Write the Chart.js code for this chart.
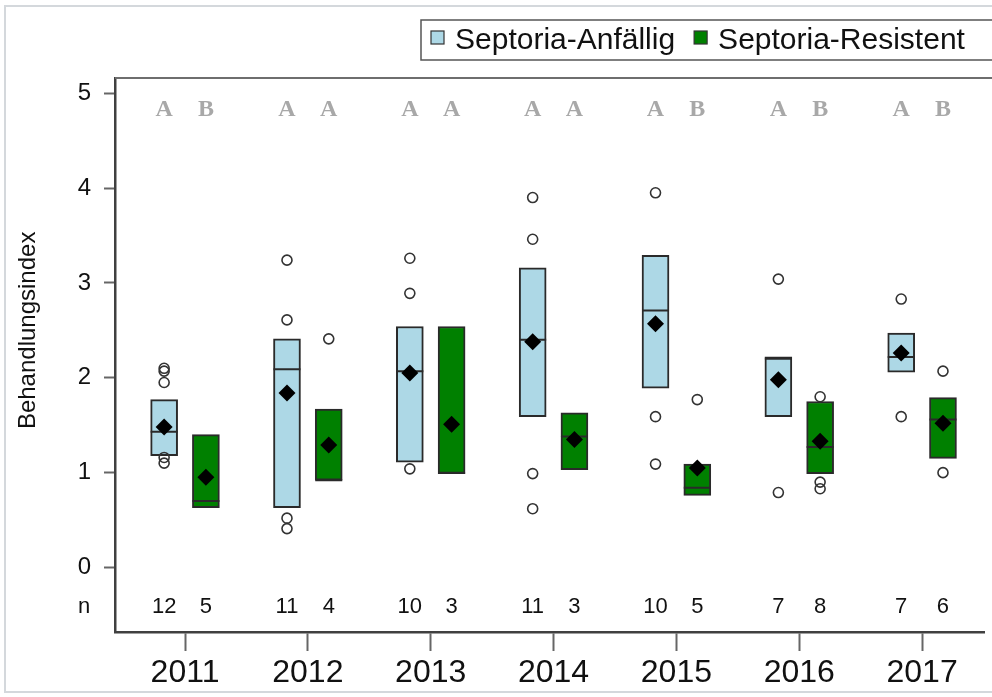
<!DOCTYPE html>
<html>
<head>
<meta charset="utf-8">
<script src="https://cdn.jsdelivr.net/npm/chart.js@4.4.1/dist/chart.umd.min.js"></script>
<style>
  html, body { margin: 0; padding: 0; background: #fff; overflow: hidden; }
  #wrap { position: relative; width: 992px; height: 697px; overflow: hidden; }
  #frame { position: absolute; left: 4px; top: 5px; width: 1100px; height: 688px; border: 2px solid #d4d8dc; box-sizing: border-box; pointer-events: none; }
  canvas { position: absolute; left: 0; top: 0; }
</style>
</head>
<body>
<div id="wrap">
  <canvas id="chart" width="1000" height="697"></canvas>
  <div id="frame"></div>
</div>
<script>
const years = ['2011', '2012', '2013', '2014', '2015', '2016', '2017'];

// Septoria-Anfällig
const anfQ1 = [1.18, 0.63, 1.11, 1.59, 1.89, 1.59, 2.06];
const anfQ3 = [1.77, 2.41, 2.54, 3.16, 3.29, 2.22, 2.47];
const anfMedian = [1.43, 2.09, 2.07, 2.40, 2.71, 2.20, 2.22];
const anfMean = [1.48, 1.84, 2.05, 2.38, 2.57, 1.98, 2.26];
const anfOutliers = [
  [2.10, 2.07, 1.95, 1.16, 1.10],
  [3.24, 2.61, 0.52, 0.41],
  [3.26, 2.89, 1.04],
  [3.90, 3.46, 0.99, 0.62],
  [3.95, 1.59, 1.09],
  [3.04, 0.79],
  [2.83, 1.59]
];
const anfN = [12, 11, 10, 11, 10, 7, 7];
const anfLetters = ['A', 'A', 'A', 'A', 'A', 'A', 'A'];

// Septoria-Resistent
const resQ1 = [0.63, 0.92, 0.99, 1.03, 0.76, 0.99, 1.15];
const resQ3 = [1.40, 1.67, 2.54, 1.63, 1.09, 1.75, 1.79];
const resMedian = [0.70, 0.92, 1.00, 1.38, 0.84, 1.27, 1.56];
const resMean = [0.95, 1.29, 1.51, 1.35, 1.05, 1.33, 1.52];
const resOutliers = [
  [],
  [2.41],
  [],
  [],
  [1.77],
  [1.80, 0.90, 0.83],
  [2.07, 1.00]
];
const resN = [5, 4, 3, 3, 5, 8, 6];
const resLetters = ['B', 'A', 'A', 'A', 'B', 'B', 'B'];

const yTicks = [0, 1, 2, 3, 4, 5];

const shift = 0.17; // half distance between the two boxes of a year
const letterLevel = 4.82;
const nLevel = -0.42;
const sans = '"Liberation Sans", Arial, sans-serif';

const blue = '#add8e6';
const green = '#008000';
const edge = '#2a2a2a';

function boxes(q1, q3, dx) {
  return years.map((y, i) => ({ x: i + dx, y: [q1[i], q3[i]] }));
}
function points(vals, dx) {
  return years.map((y, i) => ({ x: i + dx, y: vals[i] }));
}
function outliers(lists, dx) {
  return lists.flatMap((arr, i) => arr.map(v => ({ x: i + dx, y: v })));
}

const medianStyle = { type: 'scatter', pointStyle: 'line', pointRadius: 13.5, borderColor: edge, borderWidth: 2, order: 2 };
const meanStyle = { type: 'scatter', pointStyle: 'rectRot', pointRadius: 8.5, backgroundColor: '#000', borderColor: '#000', borderWidth: 0, order: 1 };
const outStyle = { type: 'scatter', pointStyle: 'circle', pointRadius: 5, backgroundColor: 'rgba(255,255,255,0)', borderColor: '#333', borderWidth: 1.6, order: 2 };

const extras = {
  id: 'extras',
  afterDraw(chart) {
    const { ctx, chartArea: a, scales: { x, y } } = chart;
    ctx.save();

    // top frame line
    ctx.strokeStyle = '#6e6e6e';
    ctx.lineWidth = 2;
    ctx.beginPath();
    ctx.moveTo(a.left, a.top);
    ctx.lineTo(1000, a.top);
    ctx.stroke();

    // letters of significance
    ctx.font = 'bold 24px "Liberation Serif", "Times New Roman", serif';
    ctx.fillStyle = '#a8a8a8';
    ctx.textAlign = 'center';
    ctx.textBaseline = 'middle';
    years.forEach((yr, i) => {
      ctx.fillText(anfLetters[i], x.getPixelForValue(i - shift), y.getPixelForValue(letterLevel));
      ctx.fillText(resLetters[i], x.getPixelForValue(i + shift), y.getPixelForValue(letterLevel));
    });

    // sample sizes
    ctx.font = '22px ' + sans;
    ctx.fillStyle = '#111';
    years.forEach((yr, i) => {
      ctx.fillText(String(anfN[i]), x.getPixelForValue(i - shift), y.getPixelForValue(nLevel));
      ctx.fillText(String(resN[i]), x.getPixelForValue(i + shift), y.getPixelForValue(nLevel));
    });
    ctx.fillText('n', 84, y.getPixelForValue(nLevel));

    // y axis title, centred on the 0..5 range
    ctx.save();
    ctx.translate(35, (y.getPixelForValue(0) + y.getPixelForValue(5)) / 2);
    ctx.rotate(-Math.PI / 2);
    ctx.font = '24px ' + sans;
    ctx.textBaseline = 'alphabetic';
    ctx.fillText('Behandlungsindex', 0, 0);
    ctx.restore();

    // legend
    const items = [
      { label: chart.data.datasets[0].label, color: blue },
      { label: chart.data.datasets[1].label, color: green }
    ];
    ctx.strokeStyle = '#555';
    ctx.lineWidth = 1.5;
    ctx.strokeRect(421, 20, 700, 40);
    ctx.font = '30px ' + sans;
    ctx.textAlign = 'left';
    ctx.textBaseline = 'alphabetic';
    let lx = 431;
    items.forEach(it => {
      ctx.fillStyle = it.color;
      ctx.fillRect(lx, 31, 13, 13);
      ctx.strokeStyle = '#333';
      ctx.lineWidth = 1.2;
      ctx.strokeRect(lx, 31, 13, 13);
      ctx.fillStyle = '#111';
      ctx.fillText(it.label, lx + 24, 49);
      lx += 24 + ctx.measureText(it.label).width + 19;
    });

    ctx.restore();
  }
};

new Chart(document.getElementById('chart'), {
  type: 'bar',
  data: {
    datasets: [
      { label: 'Septoria-Anfällig', data: boxes(anfQ1, anfQ3, -shift), backgroundColor: blue, borderColor: edge, borderWidth: 2, borderSkipped: false, barThickness: 27, order: 3 },
      { label: 'Septoria-Resistent', data: boxes(resQ1, resQ3, shift), backgroundColor: green, borderColor: edge, borderWidth: 2, borderSkipped: false, barThickness: 27, order: 3 },
      Object.assign({ label: 'Median A', data: points(anfMedian, -shift) }, medianStyle),
      Object.assign({ label: 'Median R', data: points(resMedian, shift) }, medianStyle),
      Object.assign({ label: 'Mittel A', data: points(anfMean, -shift) }, meanStyle),
      Object.assign({ label: 'Mittel R', data: points(resMean, shift) }, meanStyle),
      Object.assign({ label: 'Ausreißer A', data: outliers(anfOutliers, -shift) }, outStyle),
      Object.assign({ label: 'Ausreißer R', data: outliers(resOutliers, shift) }, outStyle)
    ]
  },
  options: {
    responsive: false,
    animation: false,
    devicePixelRatio: 1,
    grouped: false,
    layout: { padding: { top: 78, left: 0, right: 0, bottom: 0 } },
    plugins: { legend: { display: false }, tooltip: { enabled: false } },
    scales: {
      x: {
        type: 'linear',
        offset: false,
        min: -0.57,
        max: 6.508,
        afterBuildTicks: s => { s.ticks = years.map((yr, i) => ({ value: i })); },
        afterFit: s => { s.height = 65; },
        ticks: {
          callback: v => years[v],
          autoSkip: false,
          maxRotation: 0,
          color: '#111',
          padding: 3,
          font: { family: sans, size: 32 }
        },
        grid: { offset: false, drawOnChartArea: false, drawTicks: true, tickLength: 19, tickColor: '#666', tickWidth: 2 },
        border: { display: true, color: '#404040', width: 2.5 }
      },
      y: {
        min: -0.68,
        max: 5.16,
        afterBuildTicks: s => { s.ticks = yTicks.map(v => ({ value: v })); },
        afterFit: s => { s.width = 115; },
        ticks: { color: '#111', padding: 13, font: { family: sans, size: 24 } },
        grid: { drawOnChartArea: false, drawTicks: true, tickLength: 11, tickColor: '#666', tickWidth: 2 },
        border: { display: true, color: '#404040', width: 2.5 }
      }
    }
  },
  plugins: [extras]
});
</script>
</body>
</html>
